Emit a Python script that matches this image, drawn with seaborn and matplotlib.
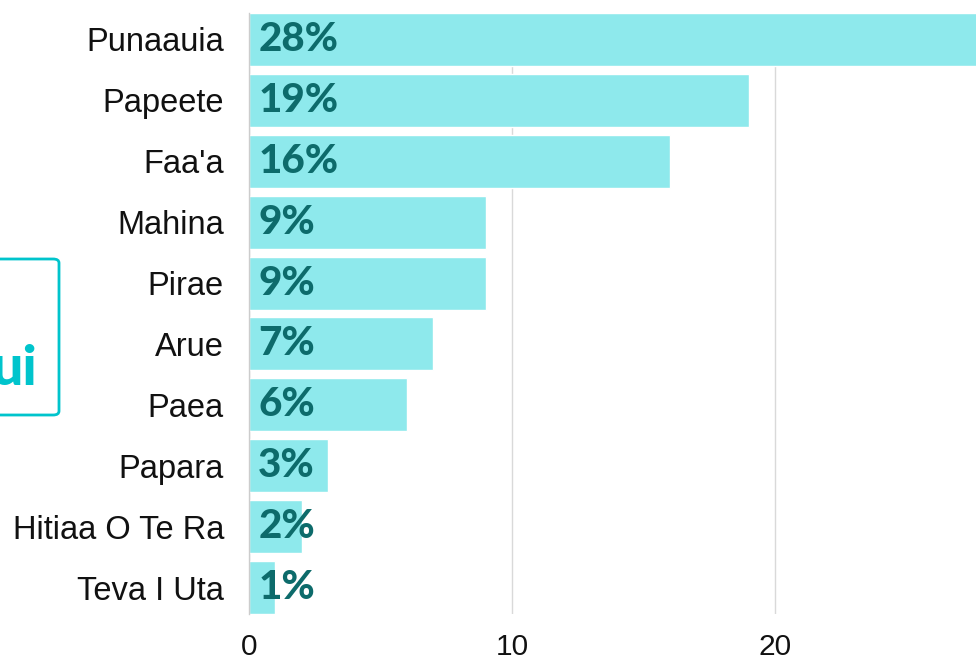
import matplotlib
matplotlib.use("Agg")
import matplotlib.pyplot as plt
import seaborn as sns
from matplotlib.patches import FancyBboxPatch

# data
communes = ["Punaauia", "Papeete", "Faa'a", "Mahina", "Pirae",
            "Arue", "Paea", "Papara", "Hitiaa O Te Ra", "Teva I Uta"]
shares = [28, 19, 16, 9, 9, 7, 6, 3, 2, 1]
pct_labels = [f"{v}%" for v in shares]

bar_color = "#8EE9EC"
label_color = "#0D6B6B"
accent = "#00C4CC"

sns.set_style("white")
plt.rcParams["font.family"] = ["Liberation Sans", "DejaVu Sans"]

W, H = 976, 662
fig = plt.figure(figsize=(W / 100, H / 100), dpi=100)

# axes runs past the right edge so the top bar is cut off like in the original
ax = fig.add_axes([249 / W, 1 - 614 / H, 789 / W, (614 - 13) / H])

sns.barplot(x=shares, y=communes, orient="h", color=bar_color,
            saturation=1, width=0.87, ax=ax, zorder=2)

ax.set_xlim(0, 30)
ax.set_ylim(len(communes) - 1 + 0.435, -0.435)
ax.set_xticks([0, 10, 20])
ax.grid(axis="x", color="#d9d9d9", lw=1, zorder=0)
ax.grid(axis="y", visible=False)
ax.set_axisbelow(True)
for s in ["top", "right", "bottom"]:
    ax.spines[s].set_visible(False)
ax.spines["left"].set_color("#cccccc")
ax.spines["left"].set_linewidth(1)
ax.tick_params(axis="y", length=0, pad=18, labelsize=23.5, labelcolor="#111111")
ax.tick_params(axis="x", length=0, pad=14, labelsize=21.5, labelcolor="#111111")
ax.set_xlabel("")
ax.set_ylabel("")

for i, lab in enumerate(pct_labels):
    ax.text(0.35, i, lab, ha="left", va="center", fontsize=29,
            fontweight="black", family=["Lato", "DejaVu Sans"],
            color=label_color, zorder=3)

# partly visible box on the left
box = FancyBboxPatch((-20 / W, 1 - 415 / H), 79 / W, 156 / H,
                     boxstyle="round,pad=0,rounding_size=0.006",
                     transform=fig.transFigure, fill=False,
                     edgecolor=accent, lw=2)
fig.patches.append(box)
fig.text(37 / W, 1 - 385 / H, "ui", ha="right", va="baseline",
         fontsize=40, fontweight="black", family=["Lato", "DejaVu Sans"],
         color=accent)

fig.savefig("out.png", dpi=100)
